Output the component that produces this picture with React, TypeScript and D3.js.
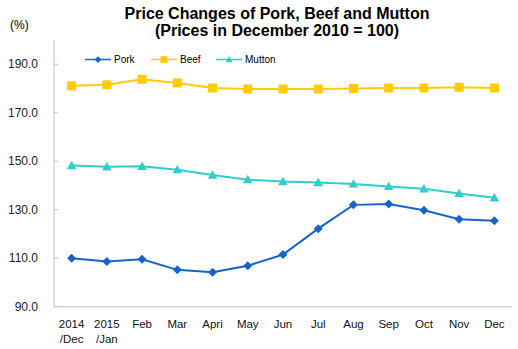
import React from "react";
import * as d3 from "d3";

const categories = ["2014/Dec", "2015/Jan", "Feb", "Mar", "Apri", "May", "Jun", "Jul", "Aug", "Sep", "Oct", "Nov", "Dec"];
const pork = [110.0, 108.6, 109.6, 105.2, 104.2, 106.9, 111.5, 122.2, 132.0, 132.4, 129.8, 126.1, 125.5];
const beef = [181.1, 181.5, 183.8, 182.3, 180.2, 179.8, 179.8, 179.8, 180.0, 180.2, 180.2, 180.5, 180.2];
const mutton = [148.2, 147.7, 147.9, 146.5, 144.3, 142.4, 141.6, 141.2, 140.6, 139.6, 138.6, 136.7, 134.9];
const yTicks = [90, 110, 130, 150, 170, 190];

const W = 518, H = 349;
const left = 54, right = 512, top = 40, bottom = 306.7;

export default function App() {
  const x = d3.scaleBand<string>().domain(categories).range([left, right]);
  const y = d3.scaleLinear().domain([90, 200]).range([bottom, top]);
  const cx = (i: number) => (x(categories[i]) as number) + x.bandwidth() / 2;
  const line = d3.line<number>().x((_, i) => cx(i)).y((d) => y(d));

  const series = [
    { name: "Pork", data: pork, color: "#1565C8", marker: "diamond" },
    { name: "Beef", data: beef, color: "#FFCC00", marker: "square" },
    { name: "Mutton", data: mutton, color: "#33CCCC", marker: "triangle" },
  ];

  const markerShape = (m: string, px: number, py: number, s = 1) => {
    if (m === "diamond") {
      const r = 4.5 * s;
      return <path d={`M${px},${py - r}L${px + r},${py}L${px},${py + r}L${px - r},${py}Z`} />;
    }
    if (m === "square") {
      const r = 4.5 * s;
      return <rect x={px - r} y={py - r} width={2 * r} height={2 * r} />;
    }
    const r = 4.8 * s;
    return <path d={`M${px},${py - r}L${px + r},${py + r * 0.75}L${px - r},${py + r * 0.75}Z`} />;
  };

  const legendX = [85, 151, 216];
  const font = "Arial, 'Liberation Sans', sans-serif";

  return (
    <svg width={W} height={H} style={{ display: "block", position: "absolute", left: 0, top: 0 }} fontFamily={font}>
      <rect width={W} height={H} fill="#fff" />
      <text x={277} y={18.5} textAnchor="middle" fontWeight="bold" fontSize={16}>
        Price Changes of Pork, Beef and Mutton
      </text>
      <text x={277} y={36} textAnchor="middle" fontWeight="bold" fontSize={16}>
        (Prices in December 2010 = 100)
      </text>
      <text x={10} y={29} fontSize={12}>(%)</text>

      {/* axes */}
      <line x1={left} x2={left} y1={top} y2={bottom} stroke="#BFBFBF" />
      <line x1={left} x2={right} y1={bottom} y2={bottom} stroke="#BFBFBF" />
      {yTicks.map((t) => (
        <g key={t}>
          <line x1={left} x2={left + 4} y1={y(t)} y2={y(t)} stroke="#BFBFBF" />
          <text x={38} y={y(t)} dy="0.35em" textAnchor="end" fontSize={12} fill="#222">
            {t.toFixed(1)}
          </text>
        </g>
      ))}
      {categories.map((c, i) => {
        const parts = c.split("/");
        return (
          <text key={c} x={cx(i)} y={328} textAnchor="middle" fontSize={11.5} fill="#111">
            {parts.length > 1 ? (
              <>
                <tspan x={cx(i)}>{parts[0]}</tspan>
                <tspan x={cx(i)} dy={15}>{"/" + parts[1]}</tspan>
              </>
            ) : (
              c
            )}
          </text>
        );
      })}

      {series.map((s) => (
        <g key={s.name}>
          <path d={line(s.data) as string} fill="none" stroke={s.color} strokeWidth={2} />
          <g fill={s.color}>
            {s.data.map((v, i) => (
              <g key={i}>{markerShape(s.marker, cx(i), y(v))}</g>
            ))}
          </g>
        </g>
      ))}

      {series.map((s, i) => (
        <g key={"lg" + s.name}>
          <line x1={legendX[i]} x2={legendX[i] + 26} y1={59.5} y2={59.5} stroke={s.color} strokeWidth={1.5} />
          <g fill={s.color}>{markerShape(s.marker, legendX[i] + 13, 59.5, 0.75)}</g>
          <text x={legendX[i] + 29} y={59.5} dy="0.35em" fontSize={10}>{s.name}</text>
        </g>
      ))}
    </svg>
  );
}
